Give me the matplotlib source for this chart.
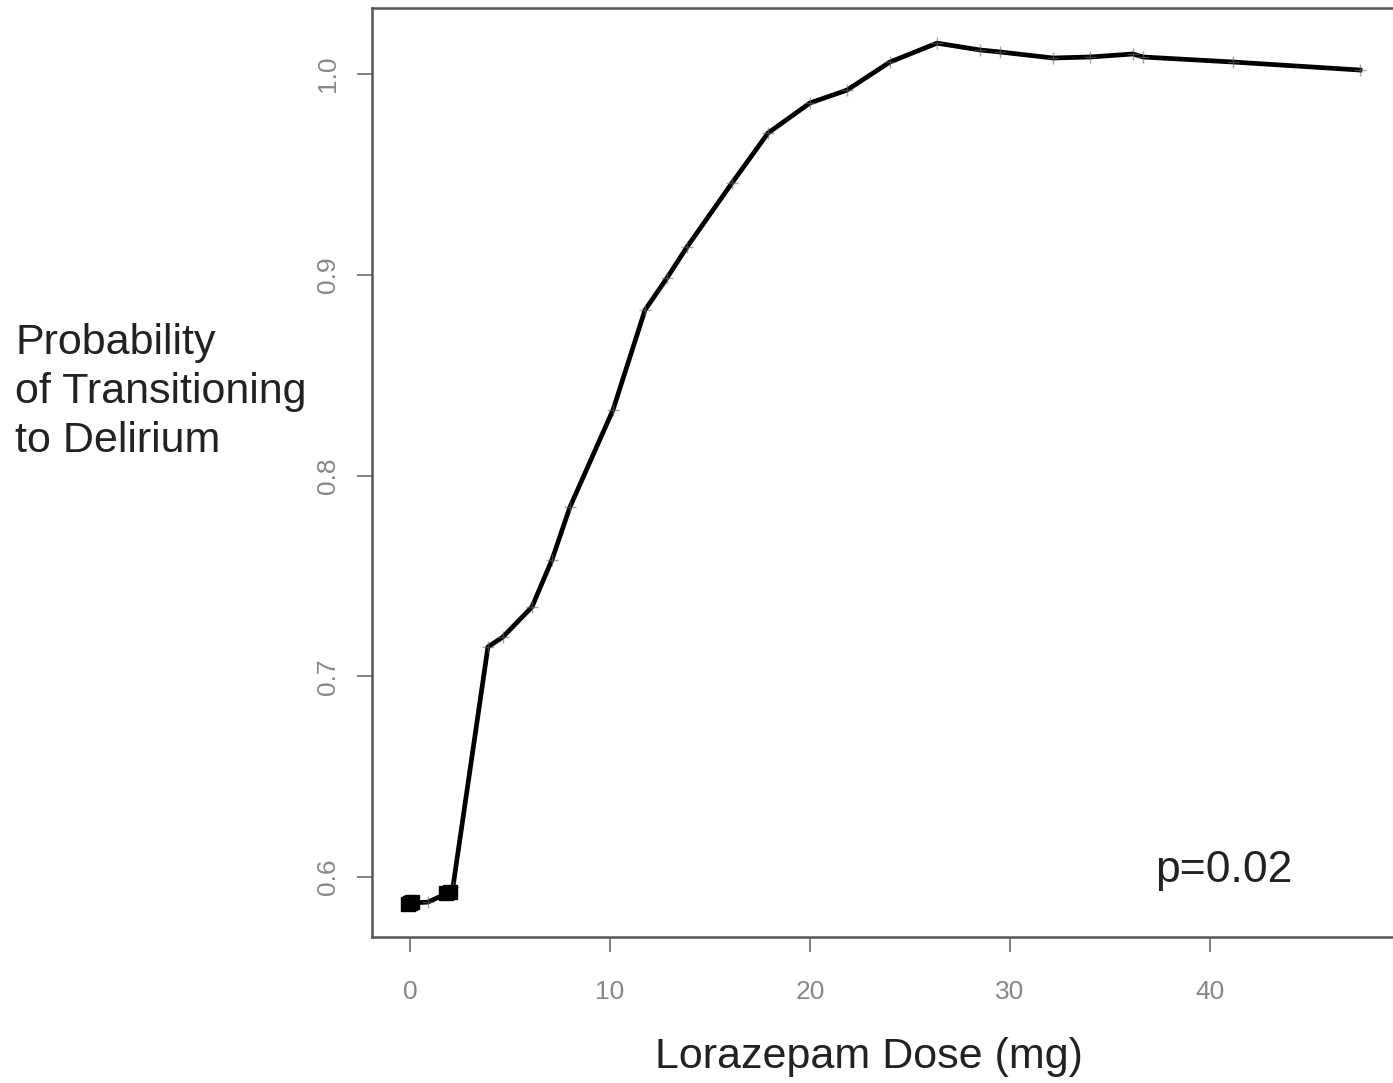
import matplotlib
matplotlib.use("Agg")
import matplotlib.pyplot as plt

plt.rcParams['font.family'] = ['Liberation Sans', 'DejaVu Sans']

# Curva suavizada
dose = [0.0, 0.9, 2.0, 2.15, 3.9, 4.65, 6.1, 7.1, 8.0, 10.15, 11.75, 12.85,
        13.85, 16.1, 17.9, 20.0, 21.85, 24.0, 26.35, 28.5, 29.5, 32.15,
        34.0, 36.15, 36.65, 41.15, 47.5]
prob = [0.587, 0.5875, 0.5925, 0.595, 0.7146, 0.7196, 0.7345, 0.758, 0.7843,
        0.8326, 0.8824, 0.8984, 0.9138, 0.9457, 0.9706, 0.9856, 0.992, 1.006,
        1.0154, 1.012, 1.011, 1.008, 1.0085, 1.01, 1.0085, 1.006, 1.002]

# Pontos pretos junto de dose baixa
blob_dose = [-0.1, 0.0, 0.1, 1.8, 2.0]
blob_prob = [0.5865, 0.587, 0.5875, 0.592, 0.5925]

xticks = [0, 10, 20, 30, 40]
yticks = [0.6, 0.7, 0.8, 0.9, 1.0]

fig = plt.figure(figsize=(13.93, 10.83), dpi=100)
ax = fig.add_axes([0.267, 0.1348, 0.733, 0.8578])

ax.plot(dose, prob, color='black', lw=3.4, solid_joinstyle='round')
ax.plot(dose, prob, ls='none', marker='+', ms=8, mew=1, color='#666666', alpha=0.6)
ax.plot(blob_dose, blob_prob, ls='none', marker='s', ms=10, color='black')

ax.set_xlim(-1.9, 49.15)
ax.set_ylim(0.5701, 1.0329)
ax.set_xticks(xticks)
ax.set_yticks(yticks)
ax.set_xticklabels([str(t) for t in xticks])
ax.set_yticklabels([f"{t:.1f}" for t in yticks], rotation=90, va='center')

for s in ['top', 'left', 'bottom']:
    ax.spines[s].set_color('#555555')
    ax.spines[s].set_linewidth(1.8)
ax.spines['right'].set_visible(False)
ax.tick_params(axis='both', direction='out', length=11, width=1.3,
               color='#777777', labelcolor='#888888', labelsize=19)
ax.tick_params(axis='x', pad=20)
ax.tick_params(axis='y', pad=12)

fig.text(0.011, 0.638, "Probability\nof Transitioning\nto Delirium",
         ha='left', va='center', fontsize=31, color='#222222', linespacing=1.28)
ax.set_xlabel("Lorazepam Dose (mg)", fontsize=31, color='#222222')
ax.xaxis.set_label_coords(0.487, -0.108)
ax.text(0.834, 0.072, "p=0.02", transform=ax.transAxes, ha='center', va='center',
        fontsize=32, color='#222222')

fig.savefig("out.png", dpi=100)
